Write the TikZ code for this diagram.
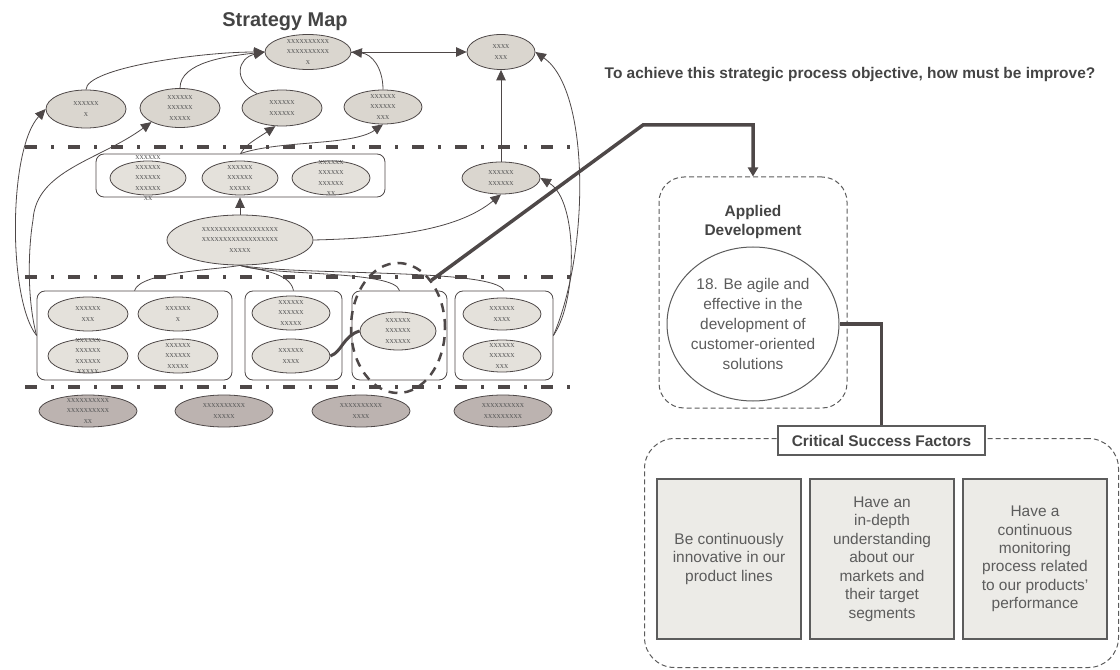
\documentclass[tikz,border=0pt]{standalone}
\usepackage{fontspec}
\setmainfont{Liberation Sans}
\newfontfamily\xfont{Liberation Serif}
\usetikzlibrary{shapes.geometric,arrows.meta}
\definecolor{mapline}{RGB}{78,72,72}
\definecolor{mapfill}{RGB}{218,214,207}
\definecolor{boxfill}{RGB}{228,225,219}
\definecolor{learnfill}{RGB}{188,179,176}
\definecolor{csffill}{RGB}{236,235,231}
\definecolor{inkgray}{RGB}{68,68,68}
\definecolor{softgray}{RGB}{92,92,92}

\begin{document}
\begin{tikzpicture}[x=1bp,y=-1bp,
    obj/.style={ellipse,draw=mapline,line width=0.8bp,fill=mapfill,inner sep=0pt,minimum width=80bp,minimum height=34bp},
    inobj/.style={obj,fill=boxfill},
    learn/.style={obj,fill=learnfill,minimum width=98bp,minimum height=32bp},
    xtext/.style={inner sep=0pt,align=center,text=softgray,font=\xfont\fontsize{8.5}{10.5}\selectfont},
    xlab/.style={label={[xtext]center:{#1}}},
    groupbox/.style={draw=mapline,line width=0.8bp,rounded corners=8bp,inner sep=0pt,minimum height=89bp},
    link/.style={draw=mapline,line width=0.8bp},
    arr/.style={link,-{Triangle[length=10.5bp,width=9.5bp]}},
    sepline/.style={draw=mapline,line width=3.5bp,dash pattern=on 12bp off 14bp on 3bp off 14bp},
    bigline/.style={draw=mapline,line width=3.5bp},
    softdash/.style={draw=softgray,line width=1bp,dash pattern=on 5bp off 3bp,inner sep=0pt},
    bodytext/.style={align=center,text=softgray,inner sep=0pt,font=\fontsize{15.5}{18.5}\selectfont},
    csfbox/.style={bodytext,draw=softgray,line width=1.2bp,fill=csffill,minimum width=144bp,minimum height=160bp}]
    \useasboundingbox (0,0) rectangle (1120,670);

    % Marking titles
    \node[anchor=base,text=inkgray,font=\bfseries\fontsize{20}{24}\selectfont] (maptitle) at (285,27) {Strategy Map};%
    \node[anchor=base,text=inkgray,font=\bfseries\fontsize{15.5}{18}\selectfont] (question) at (850,79) {To achieve this strategic process objective, how must be improve?};%

    % Drawing perspective separators
    \draw[sepline] (25,147) -- (570,147);%
    \draw[sepline] (25,277) -- (570,277);%
    \draw[sepline] (25,387) -- (570,387);%

    % Drawing group boxes
    \node[groupbox,minimum width=289bp,minimum height=43bp] (inbox) at (240.5,175.5) {};%
    \node[groupbox,minimum width=195bp] (box1) at (134.5,335.5) {};%
    \node[groupbox,minimum width=97bp] (box2) at (293.5,335.5) {};%
    \node[groupbox,minimum width=95bp] (box3) at (399.5,335.5) {};%
    \node[groupbox,minimum width=98bp] (box4) at (504,335.5) {};%

    % Marking top objectives
    \node[obj,minimum width=86bp,minimum height=35bp,xlab={xxxxxxxxxx\\xxxxxxxxxx\\x}] (fin1) at (308,52) {};%
    \node[obj,minimum width=68bp,minimum height=35bp,xlab={xxxx\\xxx}] (fin2) at (501,52) {};%

    % Marking customer objectives
    \node[obj,minimum height=38bp,xlab={xxxxxx\\x}] (cus1) at (86,109) {};%
    \node[obj,minimum height=39bp,xlab={xxxxxx\\xxxxxx\\xxxxx}] (cus2) at (180,108) {};%
    \node[obj,minimum height=36bp,xlab={xxxxxx\\xxxxxx}] (cus3) at (282,108) {};%
    \node[obj,minimum width=78bp,xlab={xxxxxx\\xxxxxx\\xxx}] (cus4) at (383,107) {};%

    % Marking internal objectives
    \node[inobj,minimum width=76bp,xlab={xxxxxx\\xxxxxx\\xxxxxx\\xxxxxx\\xx}] (int1) at (148,178) {};%
    \node[inobj,minimum width=76bp,xlab={xxxxxx\\xxxxxx\\xxxxx}] (int2) at (240,178) {};%
    \node[inobj,minimum width=78bp,xlab={xxxxxx\\xxxxxx\\xxxxxx\\xx}] (int3) at (331,178) {};%
    \node[obj,minimum width=78bp,minimum height=32bp,xlab={xxxxxx\\xxxxxx}] (int4) at (501,178) {};%
    \node[inobj,minimum width=146bp,minimum height=50bp,xlab={xxxxxxxxxxxxxxxxxx\\xxxxxxxxxxxxxxxxxx\\xxxxx}] (int5) at (240,240) {};%

    % Marking process objectives
    \node[inobj,xlab={xxxxxx\\xxx}] (b1a) at (88,314) {};%
    \node[inobj,xlab={xxxxxx\\x}] (b1b) at (178,314) {};%
    \node[inobj,xlab={xxxxxx\\xxxxxx\\xxxxxx\\xxxxx}] (b1c) at (88,356) {};%
    \node[inobj,xlab={xxxxxx\\xxxxxx\\xxxxx}] (b1d) at (178,356) {};%
    \node[inobj,minimum width=78bp,xlab={xxxxxx\\xxxxxx\\xxxxx}] (b2a) at (291,313) {};%
    \node[inobj,minimum width=78bp,xlab={xxxxxx\\xxxx}] (b2b) at (291,356) {};%
    \node[inobj,minimum width=76bp,minimum height=38bp,xlab={xxxxxx\\xxxxxx\\xxxxxx}] (b3a) at (398,331) {};%
    \node[inobj,minimum width=78bp,minimum height=32bp,xlab={xxxxxx\\xxxx}] (b4a) at (502,314) {};%
    \node[inobj,minimum width=78bp,minimum height=32bp,xlab={xxxxxx\\xxxxxx\\xxx}] (b4b) at (502,356) {};%

    % Marking the selected objective by dashed ellipse
    \node[ellipse,draw=mapline,line width=2.5bp,dash pattern=on 9bp off 7bp,inner sep=0pt,minimum width=94bp,minimum height=130bp] (focus) at (398,328) {};%

    % Marking learning objectives
    \node[learn,xlab={xxxxxxxxxx\\xxxxxxxxxx\\xx}] (learn1) at (88,411) {};%
    \node[learn,xlab={xxxxxxxxxx\\xxxxx}] (learn2) at (224,411) {};%
    \node[learn,xlab={xxxxxxxxxx\\xxxx}] (learn3) at (361,411) {};%
    \node[learn,xlab={xxxxxxxxxx\\xxxxxxxxx}] (learn4) at (503,411) {};%

    % Drawing map links
    \draw[arr] (cus1.north) .. controls (86,68) and (200,52) .. (fin1.west);%
    \draw[arr] (cus2.north) .. controls (180,62) and (228,56) .. (fin1.west);%
    \draw[arr] (cus3.150) .. controls (232,80) and (238,58) .. (fin1.west);%
    \draw[arr] (cus4.north) .. controls (383,68) and (372,54) .. (fin1.east);%
    \draw[arr] (fin1.east) -- (fin2.west);%
    \draw[arr] (int4.north) -- (fin2.south);%
    \draw[arr] (box4.east) .. controls (590,250) and (590,90) .. (fin2.east);%
    \draw[arr] (box4.east) .. controls (578,300) and (578,200) .. (int4.east);%
    \draw[arr] (int5.east) .. controls (400,238) and (460,228) .. (int4.south);%
    \draw[arr] (int5.north) -- (inbox.south -| int5.north);%
    \draw[arr] (inbox.north) .. controls (246,144) and (258,138) .. (cus3.250);%
    \draw[arr] (inbox.north) .. controls (280,140) and (352,146) .. (cus4.south);%
    \draw[arr] (box1.west) .. controls (8,300) and (8,150) .. (cus1.west);%
    \draw[arr] (box1.west) .. controls (27,300) and (28,250) .. (33,220) .. controls (36,170) and (100,160) .. (cus2.south west);%
    \draw[link] (int5.south) .. controls (215,270) and (140,272) .. (box1.north);%
    \draw[link] (int5.south) .. controls (258,270) and (290,272) .. (box2.north);%
    \draw[link] (int5.south) .. controls (270,276) and (395,270) .. (box3.north);%
    \draw[link] (int5.south) .. controls (300,276) and (495,268) .. (box4.north);%
    \draw[bigline,line width=3bp] (b2b.east) .. controls (342,352) and (343,336) .. (b3a.west);%

    % Marking applied development
    \node[softdash,rounded corners=25bp,minimum width=188bp,minimum height=231bp] (applied) at (753,292.5) {};%
    \node[align=center,text=inkgray,font=\bfseries\fontsize{15.5}{19}\selectfont] (appliedtitle) at (753,222) {Applied\\Development};%
    \node[ellipse,draw=softgray,line width=1bp,inner sep=0pt,minimum width=172bp,minimum height=154bp,
          label={[bodytext,font=\fontsize{15.5}{20}\selectfont]center:{18. Be agile and\\effective in the\\development of\\customer-oriented\\solutions}}] (goal) at (753,324) {};%

    % Marking critical success factors
    \node[softdash,rounded corners=30bp,minimum width=474bp,minimum height=229bp] (csfarea) at (881.5,553) {};%
    \node[draw=softgray,fill=white,line width=1.2bp,inner sep=0pt,minimum width=207bp,minimum height=29bp,
          text=inkgray,font=\bfseries\fontsize{15.5}{18}\selectfont] (csftitle) at (881.5,440.5) {Critical Success Factors};%
    \node[csfbox] (csf1) at (729,559) {Be continuously\\innovative in our\\product lines};%
    \node[csfbox] (csf2) at (882,559) {Have an\\in-depth\\understanding\\about our\\markets and\\their target\\segments};%
    \node[csfbox] (csf3) at (1035,559) {Have a\\continuous\\monitoring\\process related\\to our products'\\performance};%

    % Drawing focus links
    \coordinate (kink) at (643,125);%
    \draw[bigline,-{Triangle[length=9bp,width=10bp]}] (focus.55) -- (kink) -| (applied.north);%
    \draw[bigline] (goal.east) -| (csftitle.north);%
\end{tikzpicture}
\end{document}
